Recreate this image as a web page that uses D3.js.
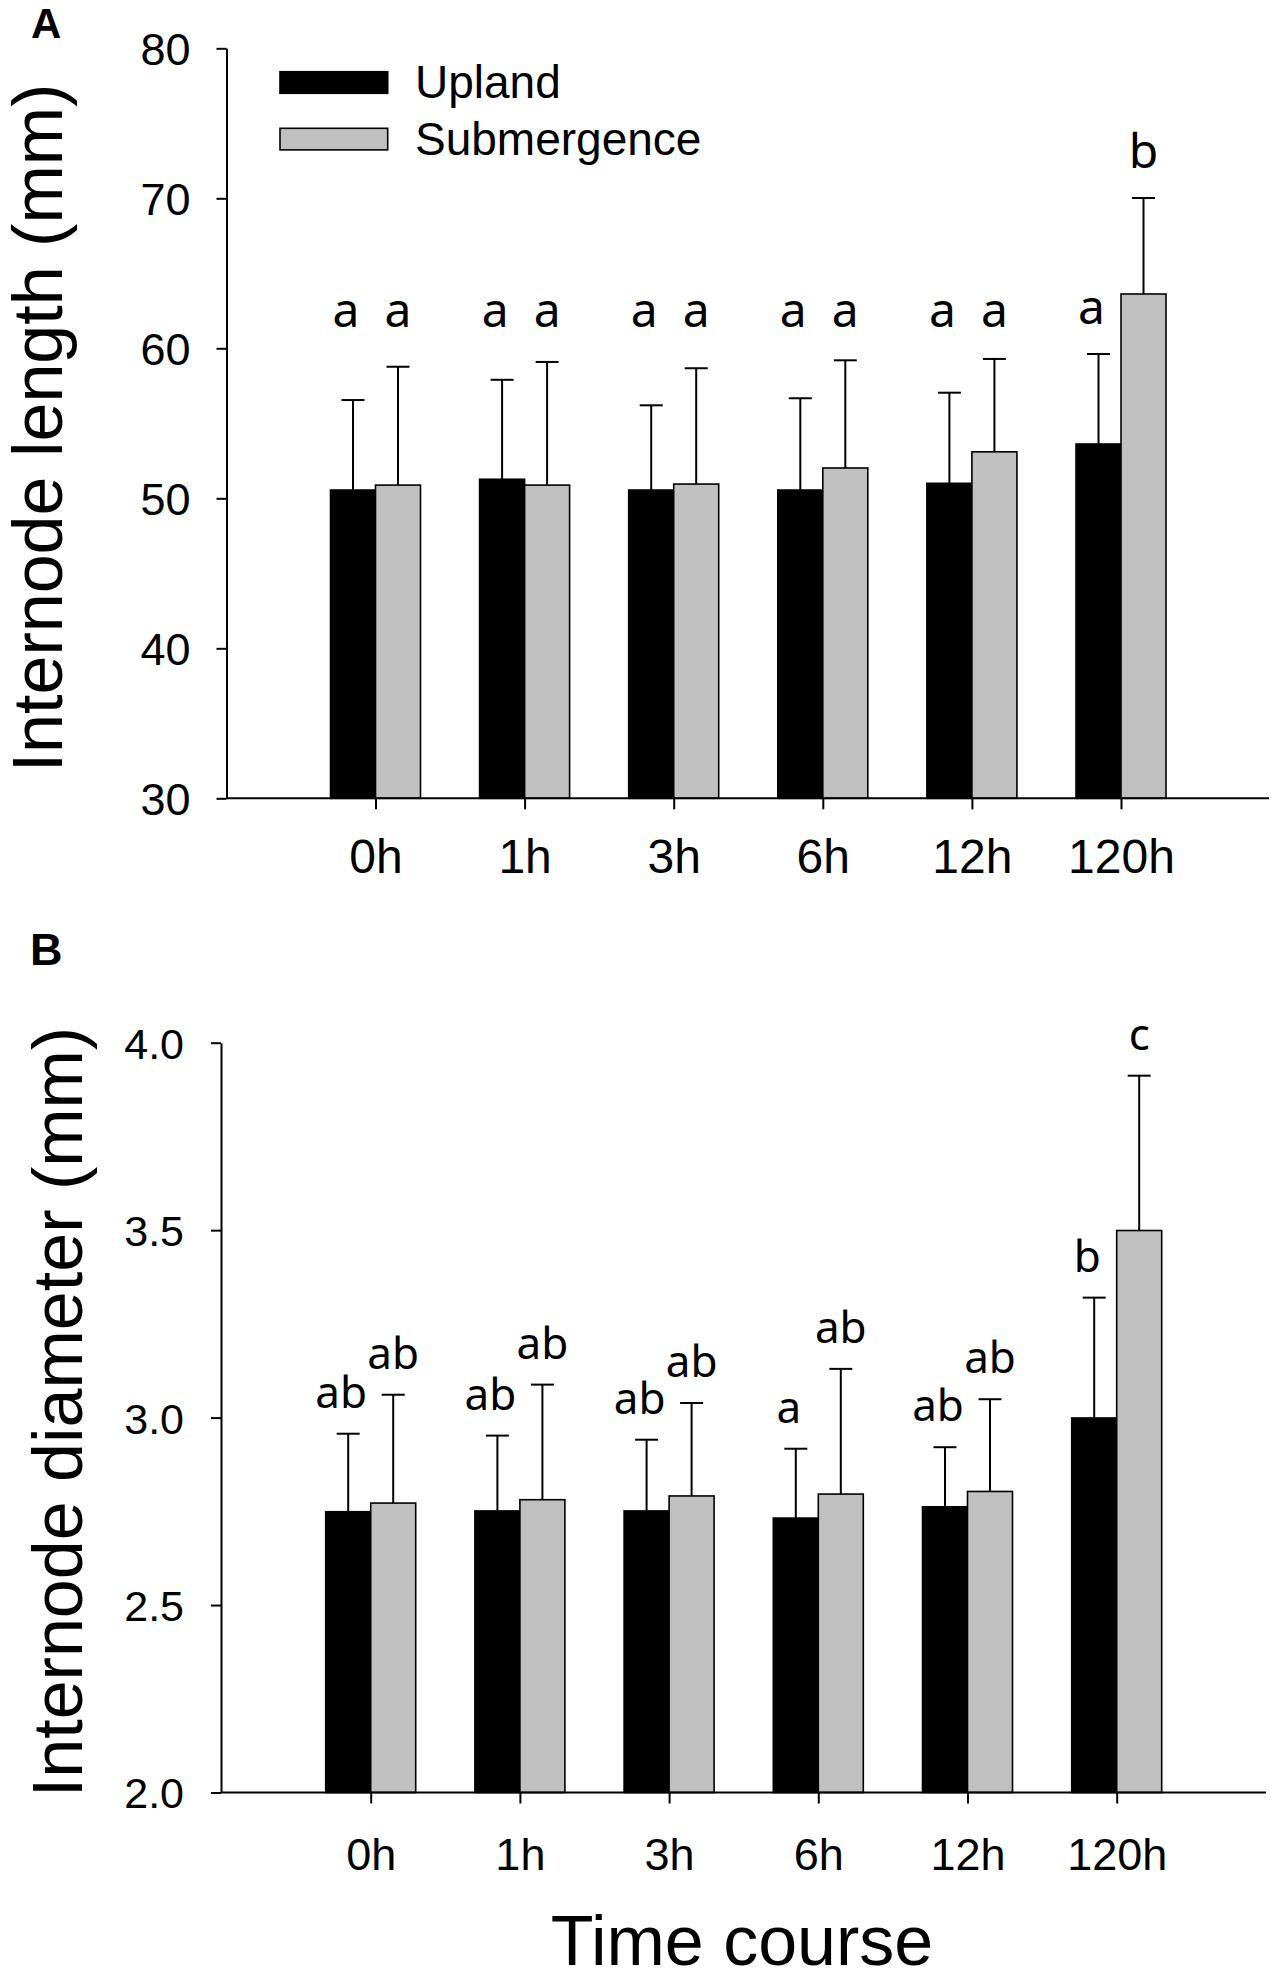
<!DOCTYPE html>
<html><head><meta charset="utf-8">
<script src="https://cdn.jsdelivr.net/npm/d3@7"></script>
<style>body{margin:0;background:#fff}</style>
</head><body>
<svg id="chart" width="1280" height="1981" xmlns="http://www.w3.org/2000/svg"></svg>
<script>
// ---------------- DATA ----------------
const categories = ["0h", "1h", "3h", "6h", "12h", "120h"];
const seriesNames = ["Upland", "Submergence"];

// Panel A: internode length (mm)
const lengthUpland      = [50.55, 51.27, 50.55, 50.55, 51.00, 53.62];
const lengthUplandSD    = [6.00, 6.63, 5.65, 6.12, 6.04, 6.00];
const lengthSubmerged   = [50.88, 50.88, 50.95, 52.02, 53.10, 63.62];
const lengthSubmergedSD = [7.89, 8.21, 7.72, 7.18, 6.19, 6.40];
const lengthUplandLetters    = ["a", "a", "a", "a", "a", "a"];
const lengthSubmergedLetters = ["a", "a", "a", "a", "a", "b"];
const lengthTicks = [30, 40, 50, 60, 70, 80];
const lengthLetterFloor = 61.4;

// Panel B: internode diameter (mm)
const diameterUpland      = [2.749, 2.751, 2.751, 2.732, 2.762, 2.999];
const diameterUplandSD    = [0.208, 0.201, 0.190, 0.185, 0.159, 0.321];
const diameterSubmerged   = [2.772, 2.781, 2.791, 2.796, 2.803, 3.499];
const diameterSubmergedSD = [0.289, 0.307, 0.248, 0.334, 0.246, 0.413];
const diameterUplandLetters    = ["ab", "ab", "ab", "a", "ab", "b"];
const diameterSubmergedLetters = ["ab", "ab", "ab", "ab", "ab", "c"];
const diameterTicks = [2.0, 2.5, 3.0, 3.5, 4.0];
const diameterLetterFloor = 2.0;

// ---------------- DRAWING ----------------
const svg = d3.select("#chart");
const SANS = "'Liberation Sans', Arial, Helvetica, sans-serif";
const LETTER_FONT = "'Noto Sans', 'Open Sans', sans-serif";
const colors = ["#000000", "#c0c0c0"];

function drawPanel(cfg) {
  const g = svg.append("g");
  const y = d3.scaleLinear().domain(cfg.domain).range([cfg.yBottom, cfg.yTop]);
  const x = d3.scalePoint().domain(categories).range([cfg.x0, cfg.x0 + (categories.length - 1) * cfg.step]);
  const barW = 45;

  const series = [
    { mean: cfg.upland, sd: cfg.uplandSD, letters: cfg.uplandLetters, off: -barW, color: colors[0], ldx: -7 },
    { mean: cfg.sub, sd: cfg.subSD, letters: cfg.subLetters, off: 0, color: colors[1], ldx: 0 }
  ];

  // bars
  series.forEach(s => {
    g.append("g").selectAll("rect").data(categories).join("rect")
      .attr("x", (c) => x(c) + s.off)
      .attr("y", (c, i) => y(s.mean[i]))
      .attr("width", barW)
      .attr("height", (c, i) => y(cfg.domain[0]) - y(s.mean[i]))
      .attr("fill", s.color)
      .attr("stroke", "#000")
      .attr("stroke-width", 1.6);
  });

  // error bars (upper only)
  series.forEach(s => {
    const eg = g.append("g").attr("stroke", "#000").attr("stroke-width", 2);
    categories.forEach((c, i) => {
      const cx = x(c) + s.off + barW / 2;
      const top = y(s.mean[i] + s.sd[i]);
      eg.append("line").attr("x1", cx).attr("x2", cx).attr("y1", y(s.mean[i])).attr("y2", top);
      eg.append("line").attr("x1", cx - 11.5).attr("x2", cx + 11.5).attr("y1", top).attr("y2", top);
    });
  });

  // significance letters
  series.forEach(s => {
    g.append("g").selectAll("text").data(categories).join("text")
      .attr("x", (c) => x(c) + s.off + barW / 2 + s.ldx)
      .attr("y", (c, i) => Math.min(y(s.mean[i] + s.sd[i]) - cfg.letterGap, y(cfg.letterFloor)))
      .attr("text-anchor", "middle")
      .attr("font-family", LETTER_FONT)
      .attr("font-size", cfg.letterSize)
      .attr("fill", "#000")
      .text((c, i) => s.letters[i]);
  });

  // y axis
  const ya = g.append("g").attr("transform", `translate(${cfg.axisX},0)`)
    .call(d3.axisLeft(y).tickValues(cfg.ticks).tickSize(10).tickSizeOuter(0)
      .tickPadding(cfg.yTickPad).tickFormat(cfg.fmt));
  ya.select(".domain").attr("stroke-width", 2);
  ya.selectAll(".tick line").attr("stroke-width", 2);
  ya.selectAll(".tick text").attr("font-family", SANS).attr("font-size", cfg.yTickSize)
    .attr("dy", "0.36em").attr("fill", "#000");

  // x axis
  const xa = g.append("g").attr("transform", `translate(0,${cfg.yBottom})`)
    .call(d3.axisBottom(x).tickSize(11).tickSizeOuter(0));
  xa.select(".domain").remove();
  xa.selectAll(".tick line").attr("stroke-width", 2);
  xa.selectAll(".tick text").attr("font-family", SANS).attr("font-size", cfg.xTickSize)
    .attr("dy", null).attr("y", cfg.xLabelOffset).attr("fill", "#000");
  g.append("line").attr("x1", cfg.axisX).attr("x2", cfg.xEnd)
    .attr("y1", cfg.yBottom).attr("y2", cfg.yBottom)
    .attr("stroke", "#000").attr("stroke-width", 2);

  // y title
  g.append("text")
    .attr("transform", `translate(${cfg.titleX},${cfg.titleY}) rotate(-90)`)
    .attr("text-anchor", "middle")
    .attr("font-family", SANS).attr("font-size", 70).attr("fill", "#000")
    .text(cfg.title);

  // panel label
  g.append("text").attr("x", cfg.labelX).attr("y", cfg.labelY)
    .attr("font-family", SANS).attr("font-weight", "bold")
    .attr("font-size", cfg.labelSize).attr("fill", "#000").text(cfg.label);

  return { g, x, y };
}

drawPanel({
  label: "A", labelX: 31, labelY: 38, labelSize: 42,
  title: "Internode length (mm)", titleX: 62, titleY: 428,
  domain: [30, 80], ticks: lengthTicks, fmt: d3.format("d"),
  yBottom: 798.3, yTop: 48.3, axisX: 226.5, xEnd: 1269,
  x0: 375.5, step: 149.1,
  upland: lengthUpland, uplandSD: lengthUplandSD, uplandLetters: lengthUplandLetters,
  sub: lengthSubmerged, subSD: lengthSubmergedSD, subLetters: lengthSubmergedLetters,
  letterGap: 30, letterFloor: lengthLetterFloor, letterSize: 48,
  yTickPad: 26, yTickSize: 45, xTickSize: 48, xLabelOffset: 75
});

drawPanel({
  label: "B", labelX: 30, labelY: 965, labelSize: 45,
  title: "Internode diameter (mm)", titleX: 82, titleY: 1412,
  domain: [2.0, 4.0], ticks: diameterTicks, fmt: d3.format(".1f"),
  yBottom: 1792.5, yTop: 1042.7, axisX: 221, xEnd: 1266,
  x0: 370.7, step: 149.2,
  upland: diameterUpland, uplandSD: diameterUplandSD, uplandLetters: diameterUplandLetters,
  sub: diameterSubmerged, subSD: diameterSubmergedSD, subLetters: diameterSubmergedLetters,
  letterGap: 26, letterFloor: diameterLetterFloor, letterSize: 44,
  yTickPad: 27, yTickSize: 43, xTickSize: 45, xLabelOffset: 77.5
});

// legend (panel A)
const legend = svg.append("g");
seriesNames.forEach((name, i) => {
  legend.append("rect").attr("x", 280).attr("y", 71.7 + i * 56.6)
    .attr("width", 107.7).attr("height", 21.6)
    .attr("fill", colors[i]).attr("stroke", "#000").attr("stroke-width", 1.6);
  legend.append("text").attr("x", 415).attr("y", 98.3 + i * 56.6)
    .attr("font-family", SANS).attr("font-size", 46).attr("fill", "#000").text(name);
});

// shared x title
svg.append("text").attr("x", 742).attr("y", 1965).attr("text-anchor", "middle")
  .attr("font-family", SANS).attr("font-size", 70).attr("fill", "#000").text("Time course");
</script>
</body></html>
